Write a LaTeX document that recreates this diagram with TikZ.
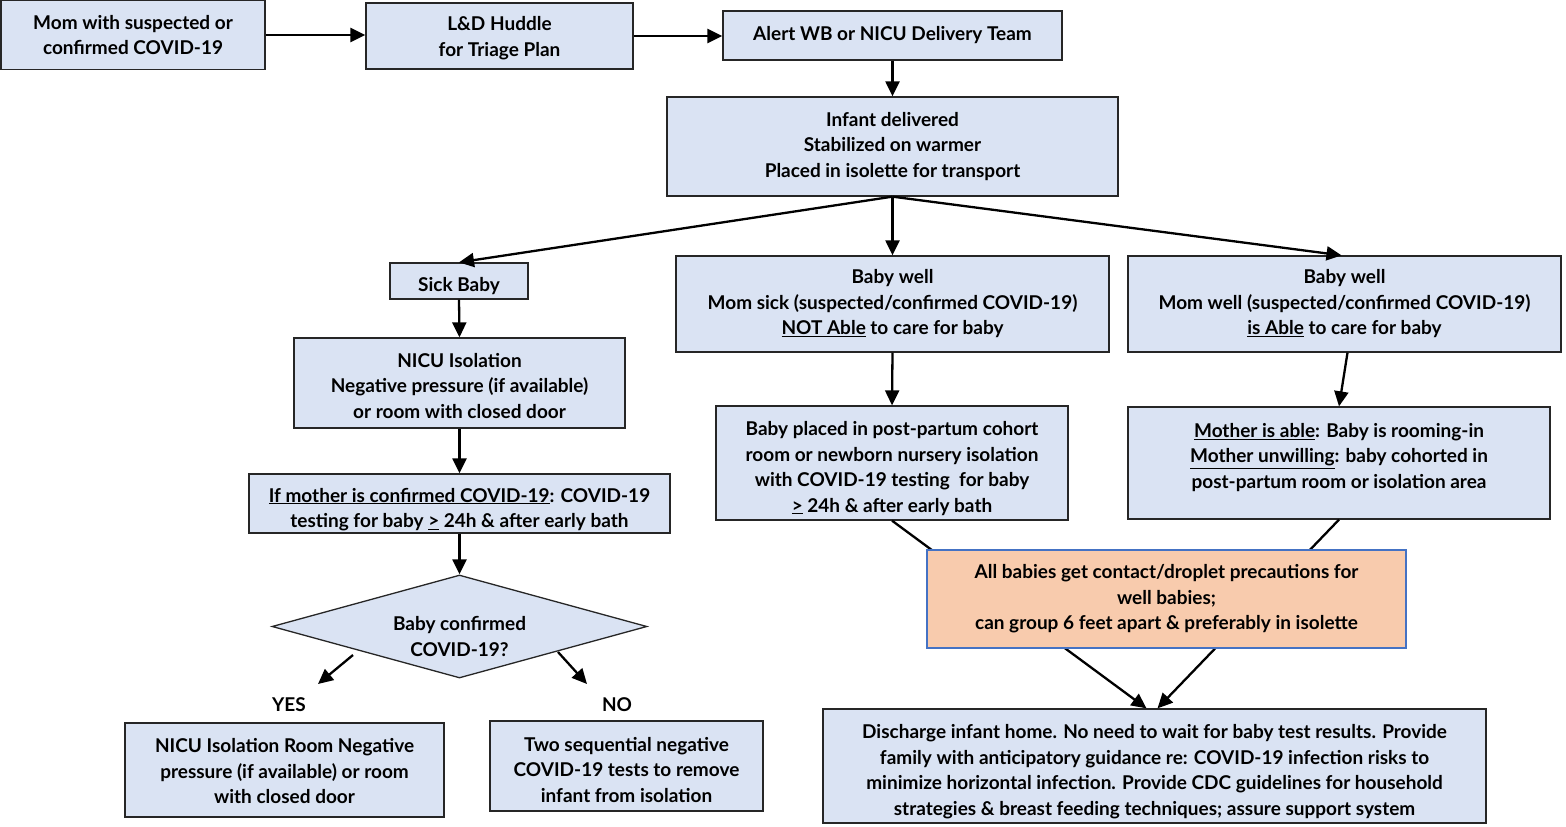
\documentclass[tikz,border=0pt]{standalone}
\usepackage{fontspec}
\newfontfamily\latob{Lato}[UprightFont={* Bold}]
\usetikzlibrary{shapes.geometric,arrows.meta,calc}
\definecolor{boxblue}{HTML}{DAE3F3}
\definecolor{boxorange}{HTML}{F8CBAD}
\definecolor{orborder}{HTML}{4472C4}
\begin{document}
\begin{tikzpicture}[x=1pt,y=-1pt,
  every node/.style={font=\latob\fontsize{19}{25.5}\selectfont, align=center, inner sep=0pt},
  box/.style={draw=black!85, line width=1.3pt, fill=boxblue, rectangle},
  obox/.style={draw=orborder, line width=1.5pt, fill=boxorange, rectangle},
  txt/.style={draw=none, fill=none},
  arr/.style={line width=2.3pt, -{Triangle[length=15pt,width=14pt]}}]
\useasboundingbox (0,0) rectangle (1566,827);

\node[box, minimum width=264pt, minimum height=69pt] (mom) at (133,35) {Mom with suspected or\\confirmed COVID-19};
\node[box, minimum width=267pt, minimum height=66pt] (ld) at (499.5,36) {};
\node[txt] (ldt) at (499.5,38) {L\&D Huddle\\for Triage Plan};
\node[box, minimum width=339pt, minimum height=49pt] (alert) at (892.5,35.5) {Alert WB or NICU Delivery Team};
\node[box, minimum width=451pt, minimum height=99pt] (inf) at (892.5,146.5) {Infant delivered\\Stabilized on warmer\\Placed in isolette for transport};
\node[box, minimum width=138pt, minimum height=36pt] (sick) at (459,281) {};
\node[txt] (sickt) at (459,286) {Sick Baby};
\node[box, minimum width=433pt, minimum height=96pt] (bw1) at (892.5,304) {Baby well\\Mom sick (suspected/confirmed COVID-19)\\\underline{NOT Able} to care for baby};
\node[box, minimum width=433pt, minimum height=96pt] (bw2) at (1344.5,304) {Baby well\\Mom well (suspected/confirmed COVID-19)\\\underline{is Able} to care for baby};
\node[box, minimum width=331pt, minimum height=90pt] (nicu) at (459.5,383) {};
\node[txt] (nicut) at (459.5,386) {NICU Isolation\\Negative pressure (if available)\\or room with closed door};
\node[box, minimum width=421pt, minimum height=59pt] (ifm) at (459.5,503.5) {};
\node[txt] (ifmt) at (459.5,509.5) {\underline{If mother is confirmed COVID-19}: COVID-19\\testing for baby \underline{>} 24h \& after early bath};
\node[diamond, draw=black!85, line width=1.3pt, fill=boxblue, minimum width=375pt, minimum height=103pt, aspect=3.64] (dia) at (459.5,626.5) {};
\node[txt] (diat) at (459.5,636.5) {Baby confirmed\\COVID-19?};
\node[txt] (yes) at (289,705) {YES};
\node[txt] (no) at (617,705) {NO};
\node[box, minimum width=319pt, minimum height=94pt] (yesbox) at (284.5,770) {};
\node[txt] (yesboxt) at (284.5,771.5) {NICU Isolation Room Negative\\pressure (if available) or room\\with closed door};
\node[box, minimum width=273pt, minimum height=90pt] (nobox) at (626.5,766) {};
\node[txt] (noboxt) at (626.5,770) {Two sequential negative\\COVID-19 tests to remove\\infant from isolation};
\node[box, minimum width=352pt, minimum height=114pt] (bp) at (892,463) {};
\node[txt] (bpt) at (892,468.5) {Baby placed in post-partum cohort\\room or newborn nursery isolation\\with COVID-19 testing\ \ for baby\\\underline{>} 24h \& after early bath};
\node[box, minimum width=422pt, minimum height=112pt] (ma) at (1339,463) {};
\node[txt] (mat) at (1339,457.5) {\underline{Mother is able}: Baby is rooming-in\\\underline{Mother unwilling}: baby cohorted in\\post-partum room or isolation area};
\node[box, minimum width=663pt, minimum height=114pt] (dis) at (1154.5,766) {};
\node[txt] (dist) at (1154.5,771.5) {Discharge infant home. No need to wait for baby test results. Provide\\family with anticipatory guidance re: COVID-19 infection risks to\\minimize horizontal infection. Provide CDC guidelines for household\\strategies \& breast feeding techniques; assure support system};

\coordinate (y1) at (353,655);
\coordinate (y2) at (318,684);
\coordinate (n1) at (558,652);
\coordinate (n2) at (587,684);

\draw[arr] (mom.east) -- (ld.west |- mom.east);
\draw[arr] (ld.east) -- (alert.west |- ld.east);
\draw[arr] (alert.south) -- (inf.north);
\draw[arr] (inf.south) -- (sick.north);
\draw[arr] (inf.south) -- (bw1.north);
\draw[arr] (inf.south) -- ($(bw2.north)+(-3,0)$);
\draw[arr] (sick.south) -- (nicu.north);
\draw[arr] (nicu.south) -- (ifm.north);
\draw[arr] (ifm.south) -- (dia.north);
\draw[arr] (y1) -- (y2);
\draw[arr] (n1) -- (n2);
\draw[arr] (bw1.south) -- (bp.north);
\draw[arr] ($(bw2.south)+(3,0)$) -- (ma.north);
\draw[arr] (bp.south) -- ($(dis.north)+(-8,0)$);
\draw[arr] (ma.south) -- ($(dis.north)+(3,0)$);

\node[obox, minimum width=479pt, minimum height=98pt] (or) at (1166.5,599) {All babies get contact/droplet precautions for\\well babies;\\can group 6 feet apart \& preferably in isolette};
\end{tikzpicture}
\end{document}
